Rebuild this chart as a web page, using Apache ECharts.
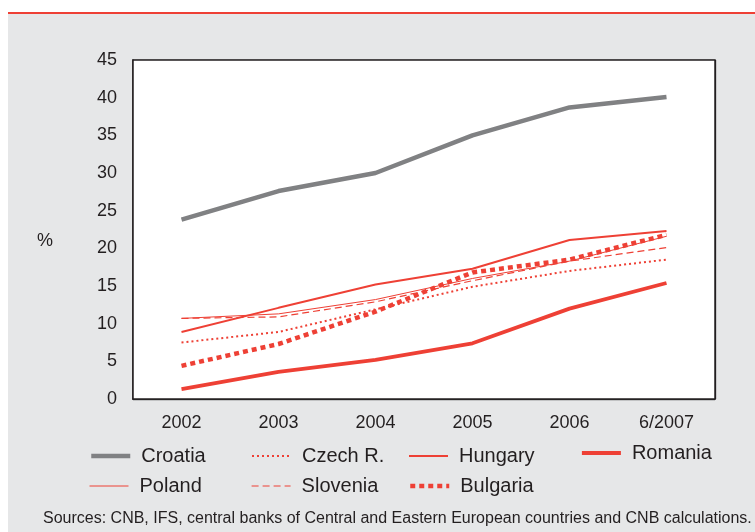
<!DOCTYPE html>
<html><head><meta charset="utf-8">
<script src="https://cdn.jsdelivr.net/npm/echarts@6/dist/echarts.min.js"></script>
<style>html,body{margin:0;padding:0;background:#fff}#c{width:755px;height:532px}</style>
</head><body><div id="c"></div>
<script>
const categories = ['2002','2003','2004','2005','2006','6/2007'];
const croatia  = [23.8, 27.6, 30.0, 35.0, 38.7, 40.1];
const czech    = [7.5, 8.9, 11.9, 14.9, 17.0, 18.5];
const hungary  = [8.9, 12.1, 15.2, 17.3, 21.1, 22.3];
const romania  = [1.3, 3.6, 5.2, 7.4, 12.0, 15.4];
const poland   = [10.7, 11.3, 13.2, 16.0, 18.3, 21.6];
const slovenia = [10.7, 10.9, 12.9, 15.7, 18.3, 20.1];
const bulgaria = [4.4, 7.3, 11.6, 16.8, 18.5, 21.8];
const yTicks = {min: 0, max: 45, interval: 5};

const RED = '#ee4035', GRAY = '#808183', INK = '#231f20', FONT = 'Liberation Sans, Arial, sans-serif';
const styles = {
  'Croatia':  {color: GRAY, width: 4.5, type: 'solid', z: 3},
  'Czech R.': {color: RED, width: 2, type: [2, 3]},
  'Hungary':  {color: RED, width: 2, type: 'solid'},
  'Romania':  {color: RED, width: 3.8, type: 'solid'},
  'Poland':   {color: RED, width: 1, type: 'solid'},
  'Slovenia': {color: RED, width: 1.2, type: [7, 4]},
  'Bulgaria': {color: RED, width: 4.5, type: [5, 4], z: 4}
};
function s(name, data) {
  const st = styles[name];
  return {name, type: 'line', data, symbol: 'none', z: st.z || 2,
    lineStyle: {color: st.color, width: st.width, type: st.type, cap: 'butt'}, itemStyle: {color: st.color}};
}
const series = [
  s('Croatia', croatia), s('Czech R.', czech), s('Hungary', hungary), s('Romania', romania),
  s('Poland', poland), s('Slovenia', slovenia), s('Bulgaria', bulgaria)
];
function lg(name, left, top) {
  const st = styles[name];
  return {data: [name], left, top, itemWidth: 39, itemHeight: 14, itemGap: 0, padding: 0,
    itemStyle: {opacity: 0},
    lineStyle: {color: st.color, width: st.width, type: st.type, cap: 'butt'},
    textStyle: {fontSize: 20, color: INK, fontFamily: FONT, padding: [0, 0, 0, 6]},
    selectedMode: false};
}
const chart = echarts.init(document.getElementById('c'));
chart.setOption({
  animation: false,
  backgroundColor: '#fff',
  graphic: [
    {type: 'rect', shape: {x: 8, y: 14, width: 747, height: 518}, style: {fill: '#e6e7e8'}, z: -10},
    {type: 'rect', shape: {x: 8, y: 12, width: 747, height: 2}, style: {fill: RED}, z: -9},
    {type: 'text', left: 37, top: 232, style: {text: '%', fontSize: 18, fill: INK, fontFamily: FONT}},
    {type: 'text', left: 43, top: 511, style: {text: 'Sources: CNB, IFS, central banks of Central and Eastern European countries and CNB calculations.', fontSize: 16, fill: INK, fontFamily: FONT}}
  ],
  grid: {left: 133, top: 60, width: 582, height: 339, show: true, backgroundColor: '#fff', borderColor: INK, borderWidth: 1.5, z: 1},
  legend: [
    lg('Croatia', 89, 446), lg('Czech R.', 251, 446), lg('Hungary', 408, 446), lg('Romania', 580, 443),
    lg('Poland', 89, 476), lg('Slovenia', 251, 476), lg('Bulgaria', 408, 476)
  ],
  xAxis: {type: 'category', data: categories, boundaryGap: true,
    axisLine: {show: true, lineStyle: {color: INK, width: 1.5}}, axisTick: {show: false},
    axisLabel: {fontSize: 18, color: INK, margin: 15, fontFamily: FONT},
    splitLine: {show: true, lineStyle: {color: INK, width: 1.3}}},
  yAxis: {type: 'value', min: yTicks.min, max: yTicks.max, interval: yTicks.interval,
    axisLine: {show: true, lineStyle: {color: INK, width: 1.5}}, axisTick: {show: false},
    axisLabel: {fontSize: 18, color: INK, margin: 16, fontFamily: FONT},
    splitLine: {show: true, lineStyle: {color: '#555', width: 1.3}}},
  series
});
</script></body></html>
